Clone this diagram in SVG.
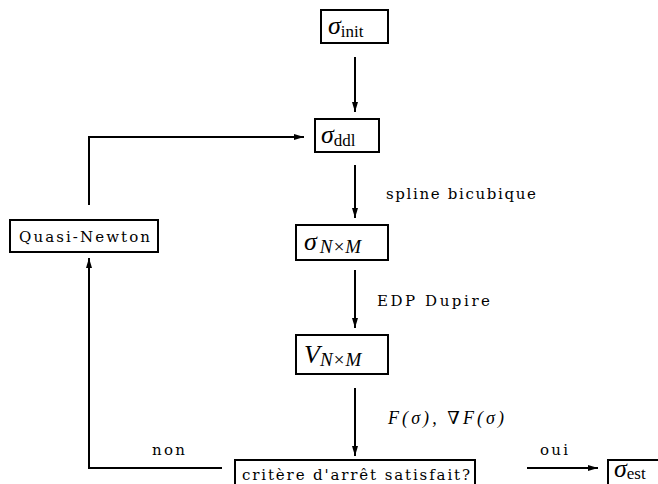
<svg xmlns="http://www.w3.org/2000/svg" width="658" height="484" viewBox="0 0 658 484">
<defs>
<marker id="ah" viewBox="0 0 10 6" refX="10" refY="3" markerWidth="10" markerHeight="6" markerUnits="userSpaceOnUse" orient="auto">
<path d="M0,0 L10,3 L0,6 Z" fill="#000"/>
</marker>
<style>
.box{fill:#fff;stroke:#000;stroke-width:2}
.ln{fill:none;stroke:#000;stroke-width:2}
.t{font-family:"DejaVu Serif","Liberation Serif",serif;font-size:15px;fill:#000}
.m{font-family:"Liberation Serif","DejaVu Serif",serif;font-style:italic;fill:#000}
.sub{font-style:normal}
</style>
</defs>
<rect width="658" height="484" fill="#fff"/>
<g id="connectors">
<line class="ln" x1="355" y1="57" x2="355" y2="112" marker-end="url(#ah)"/>
<line class="ln" x1="355" y1="165" x2="355" y2="218" marker-end="url(#ah)"/>
<line class="ln" x1="355" y1="270" x2="355" y2="328" marker-end="url(#ah)"/>
<line class="ln" x1="355" y1="388" x2="355" y2="456" marker-end="url(#ah)"/>
<line class="ln" x1="527" y1="468" x2="598" y2="468" marker-end="url(#ah)"/>
<polyline class="ln" points="222,468 89,468 89,258" marker-end="url(#ah)"/>
<polyline class="ln" points="89,205 89,137 304,137" marker-end="url(#ah)"/>
<text class="t" x="386" y="199" textLength="150" lengthAdjust="spacing">spline bicubique</text>
<text class="t" x="377" y="306" textLength="113" lengthAdjust="spacing">EDP Dupire</text>
<text class="m" x="388" y="424" font-size="18" textLength="116" lengthAdjust="spacing">F(σ), ∇F(σ)</text>
<text class="t" x="152" y="455" textLength="33" lengthAdjust="spacing">non</text>
<text class="t" x="540" y="455" textLength="28" lengthAdjust="spacing">oui</text>
</g>
<g id="sigma_init">
<rect class="box" x="321" y="10" width="67" height="33"/>
<text class="m" x="328" y="34" font-size="26">σ<tspan class="sub" font-size="17" dy="3">init</tspan></text>
</g>
<g id="sigma_ddl">
<rect class="box" x="315" y="119" width="64" height="33"/>
<text class="m" x="321" y="143" font-size="26">σ<tspan class="sub" font-size="17" dy="3">ddl</tspan></text>
</g>
<g id="sigma_NxM">
<rect class="box" x="296" y="225" width="92" height="35"/>
<text class="m" x="304" y="250" font-size="26">σ<tspan font-size="19" dy="3" dx="3">N×M</tspan></text>
</g>
<g id="V_NxM">
<rect class="box" x="296" y="335" width="92" height="39"/>
<text class="m" x="304" y="363" font-size="26">V<tspan font-size="19" dy="3">N×M</tspan></text>
</g>
<g id="quasi_newton">
<rect class="box" x="10" y="220" width="148" height="32"/>
<text class="t" x="19" y="242" textLength="131" lengthAdjust="spacing">Quasi-Newton</text>
</g>
<g id="critere">
<rect class="box" x="235" y="460" width="240" height="34"/>
<text class="t" x="242" y="480" textLength="228" lengthAdjust="spacing">critère d'arrêt satisfait?</text>
</g>
<g id="sigma_est">
<rect class="box" x="608" y="460" width="60" height="34"/>
<text class="m" x="614" y="477" font-size="26">σ<tspan class="sub" font-size="17" dy="2">est</tspan></text>
</g>
</svg>
